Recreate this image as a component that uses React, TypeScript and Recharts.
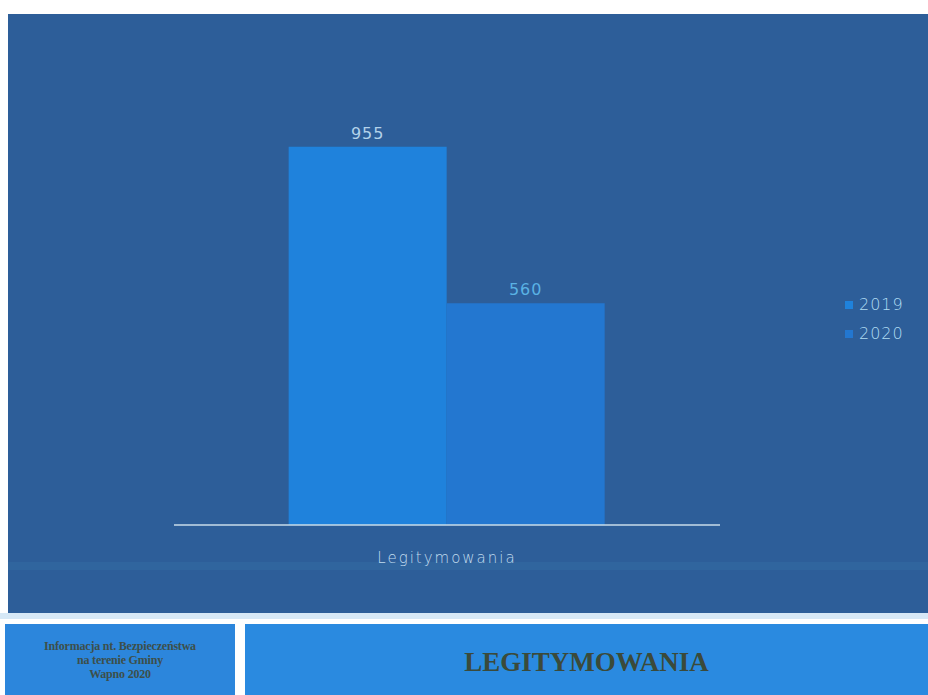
import React from 'react';
import { BarChart, Bar, XAxis, YAxis, Legend, LabelList } from 'recharts';

const categories = ['Legitymowania'];
const values2019 = [955];
const values2020 = [560];
const seriesNames = ['2019', '2020'];
const footerLines = ['Informacja nt. Bezpieczeństwa', 'na terenie Gminy', 'Wapno 2020'];
const footerTitle = 'LEGITYMOWANIA';

const data = categories.map((c, i) => ({ name: c, s2019: values2019[i], s2020: values2020[i] }));

const BG = '#2d5e99';
const C2019 = '#1f82dc';
const C2020 = '#2377d0';
const FONT = '"DejaVu Sans", "Open Sans", sans-serif';

const renderLegend = (props: any) => {
  const { payload } = props;
  return (
    <div style={{ fontFamily: FONT }}>
      {payload.map((p: any) => (
        <div key={p.value} style={{ display: 'flex', alignItems: 'center', height: 29 }}>
          <span style={{ width: 8, height: 8, background: p.color, display: 'inline-block', marginRight: 6 }} />
          <span style={{ color: '#b0dcf2', fontSize: 16, letterSpacing: 1, fontWeight: 300 }}>{p.value}</span>
        </div>
      ))}
    </div>
  );
};

export default function App() {
  return (
    <div style={{ position: 'fixed', left: 0, top: 0, width: 928, height: 695, background: '#ffffff', overflow: 'hidden' }}>
      <div style={{ position: 'absolute', left: 8, top: 14, width: 920, height: 599, background: BG }} />
      <div style={{ position: 'absolute', left: 8, top: 562, width: 920, height: 8, background: '#30659e' }} />
      <div style={{ position: 'absolute', left: 0, top: 613, width: 928, height: 6, background: '#d6e8f6' }} />
      <div style={{ position: 'absolute', left: 0, top: 0 }}>
        <BarChart
          width={928}
          height={613}
          data={data}
          margin={{ top: 129, right: 208, bottom: 48, left: 174 }}
          barCategoryGap="21%"
          barGap={0}
        >
          <YAxis hide domain={[0, 1000]} />
          <XAxis
            dataKey="name"
            height={40}
            axisLine={{ stroke: '#c8dcea', strokeWidth: 1.5 }}
            tickLine={false}
            tick={{ fill: '#c0dcee', fontSize: 15, fontFamily: FONT, letterSpacing: 2, fontWeight: 300 }}
            tickMargin={21}
          />
          <Legend
            layout="vertical"
            align="center"
            verticalAlign="middle"
            content={renderLegend}
            wrapperStyle={{ left: 845, top: 290, width: 80, height: 60 }}
          />
          <Bar dataKey="s2019" name={seriesNames[0]} fill={C2019} isAnimationActive={false}>
            <LabelList dataKey="s2019" position="top" offset={8} fill="#b3d2ea" fontSize={16} fontFamily={FONT} letterSpacing={1} />
          </Bar>
          <Bar dataKey="s2020" name={seriesNames[1]} fill={C2020} isAnimationActive={false}>
            <LabelList dataKey="s2020" position="top" offset={8} fill="#5ab2e4" fontSize={16} fontFamily={FONT} letterSpacing={1} />
          </Bar>
        </BarChart>
      </div>
      <div style={{ position: 'absolute', left: 5, top: 624, width: 230, height: 71, background: '#2c86dc', display: 'flex', flexDirection: 'column', alignItems: 'center', justifyContent: 'center', fontFamily: '"Liberation Serif", serif', fontWeight: 'bold', fontSize: 12, color: '#3d4f4a', lineHeight: '14px', letterSpacing: -0.2 }}>
        {footerLines.map((l) => <div key={l}>{l}</div>)}
      </div>
      <div style={{ position: 'absolute', left: 245, top: 624, width: 683, height: 71, background: '#2a8ae0', display: 'flex', alignItems: 'center', justifyContent: 'center', fontFamily: '"Liberation Serif", serif', fontWeight: 'bold', fontSize: 27, color: '#3b4a3a', paddingTop: 6, boxSizing: 'border-box' }}>
        {footerTitle}
      </div>
    </div>
  );
}
